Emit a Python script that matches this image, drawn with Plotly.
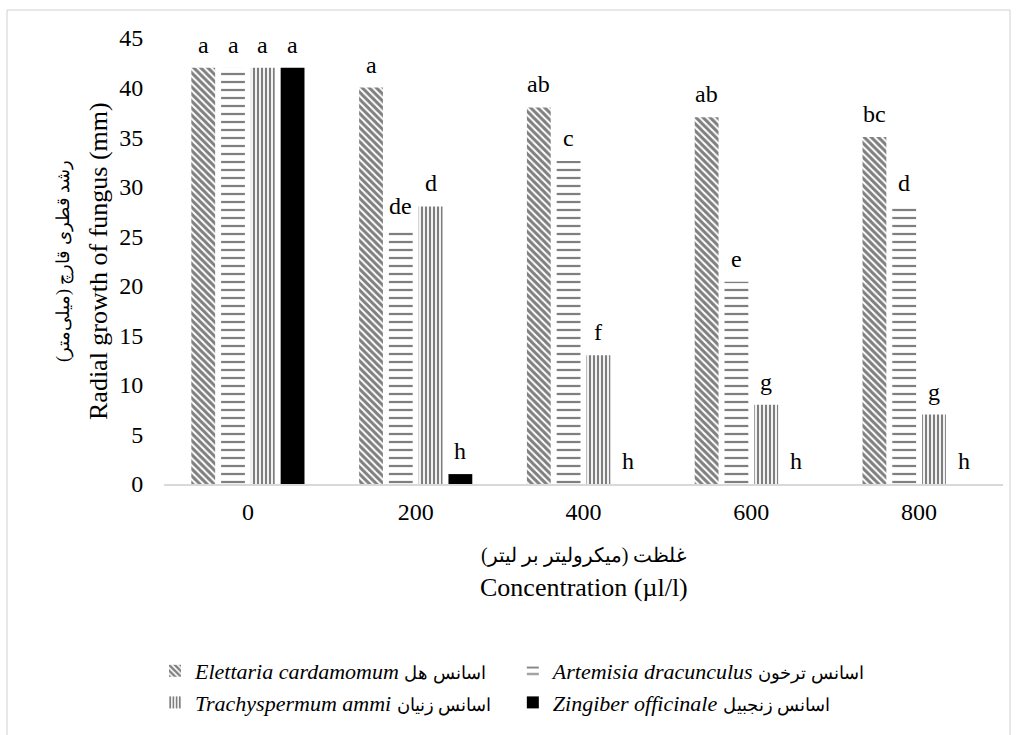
import plotly.graph_objects as go

# ---------------- data ----------------
categories = ["0", "200", "400", "600", "800"]
latin_names = ["Elettaria cardamomum", "Artemisia dracunculus",
               "Trachyspermum ammi", "Zingiber officinale"]
persian_names = ["اسانس هل", "اسانس ترخون", "اسانس زنیان", "اسانس زنجبیل"]
elettaria = [42, 40, 38, 37, 35]
artemisia = [42, 25.7, 32.6, 20.4, 28]
trachyspermum = [42, 28, 13, 8, 7]
zingiber = [42, 1, 0, 0, 0]
letters_elettaria = ["a", "a", "ab", "ab", "bc"]
letters_artemisia = ["a", "de", "c", "e", "d"]
letters_trachyspermum = ["a", "d", "f", "g", "g"]
letters_zingiber = ["a", "h", "h", "h", "h"]
y_ticks = [0, 5, 10, 15, 20, 25, 30, 35, 40, 45]
y_title_fa = "\u200fرشد قطری قارچ (میلی‌متر)\u200f"
y_title_en = "Radial growth of fungus (mm)"
x_title_fa = "\u200fغلظت (میکرولیتر بر لیتر)\u200f"
x_title_en = "Concentration (µl/l)"

values = [elettaria, artemisia, trachyspermum, zingiber]
letters = [letters_elettaria, letters_artemisia, letters_trachyspermum, letters_zingiber]

# ---------------- style ----------------
FONT = "Liberation Serif"
patterns = [
    dict(shape="\\", size=5, solidity=0.6, fgcolor="black"),
    dict(shape="-", size=8, solidity=0.28, fgcolor="black"),
    dict(shape="|", size=4, solidity=0.55, fgcolor="black"),
    dict(shape="", fgcolor="black"),
]
colors = ["white", "white", "white", "black"]

L, R, T, B = 164, 14, 38, 251
W, H = 1017, 735
PW, PH = W - L - R, H - T - B


def px_x(x):
    return (x - L) / PW


def px_y(y):
    return (H - B - y) / PH


fig = go.Figure()
for i in range(4):
    name = f"<i>{latin_names[i]}</i> <span style='font-size:18px'>{persian_names[i]}</span>"
    fig.add_trace(go.Bar(
        x=categories, y=values[i], name=name,
        marker=dict(color=colors[i], line=dict(width=0), pattern=patterns[i]),
    ))

slot = PW / len(categories) * (1 - 0.29) / 4
offsets = [(-1.5 + k) * slot for k in range(4)]

annotations = []
for i in range(4):
    for j in range(len(categories)):
        annotations.append(dict(
            x=j, y=values[i][j], xref="x", yref="y", text=letters[i][j],
            showarrow=False, yanchor="bottom", xanchor="center",
            xshift=offsets[i], yshift=8,
            font=dict(family=FONT, size=24, color="black"),
        ))

annotations += [
    dict(xref="paper", yref="paper", x=px_x(63), y=0.5, text=y_title_fa,
         textangle=-90, showarrow=False, xanchor="center", yanchor="middle",
         font=dict(family=FONT, size=18, color="black")),
    dict(xref="paper", yref="paper", x=px_x(98), y=0.5, text=y_title_en,
         textangle=-90, showarrow=False, xanchor="center", yanchor="middle",
         font=dict(family=FONT, size=26, color="black")),
    dict(xref="paper", yref="paper", x=0.5, y=px_y(555), text=x_title_fa,
         showarrow=False, xanchor="center", yanchor="middle",
         font=dict(family=FONT, size=20, color="black")),
    dict(xref="paper", yref="paper", x=0.5, y=px_y(587), text=x_title_en,
         showarrow=False, xanchor="center", yanchor="middle",
         font=dict(family=FONT, size=26, color="black")),
]

fig.update_layout(
    width=W, height=H,
    margin=dict(l=L, r=R, t=T, b=B, autoexpand=False),
    paper_bgcolor="white", plot_bgcolor="white",
    barmode="group", bargap=0.29, bargroupgap=0.2,
    font=dict(family=FONT, size=22, color="black"),
    showlegend=True,
    legend=dict(
        orientation="h", x=px_x(155), y=px_y(650),
        xanchor="left", yanchor="top",
        font=dict(family=FONT, size=22, color="black"),
        bgcolor="rgba(0,0,0,0)",
    ),
    annotations=annotations,
    shapes=[dict(
        type="rect", xref="paper", yref="paper",
        x0=px_x(7), x1=px_x(1010), y0=px_y(760), y1=px_y(10),
        line=dict(color="#d0d0d0", width=1), fillcolor="rgba(0,0,0,0)", layer="above",
    )],
)
fig.update_xaxes(
    type="category", showline=True, linecolor="#d9d9d9", linewidth=2,
    showgrid=False, ticks="outside", ticklen=5, tickcolor="rgba(0,0,0,0)",
    tickfont=dict(family=FONT, size=24, color="black"), zeroline=False,
)
fig.update_yaxes(
    range=[0, 45], tickvals=y_ticks, showline=False, showgrid=False, zeroline=False,
    ticks="outside", ticklen=15, tickcolor="rgba(0,0,0,0)",
    tickfont=dict(family=FONT, size=24, color="black"),
)

fig.write_html("out.html", config={"displayModeBar": False},
               post_script="document.body.style.margin='0';")
